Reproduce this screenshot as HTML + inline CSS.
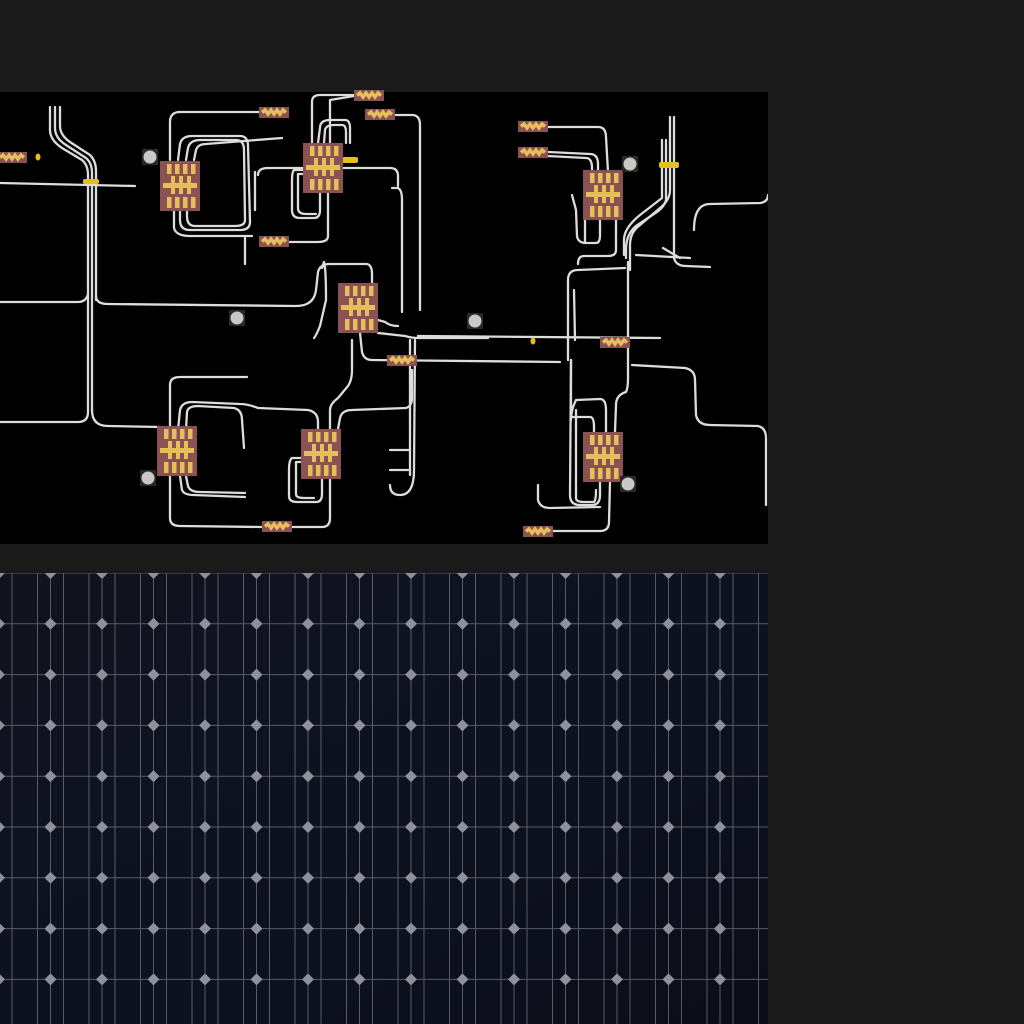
<!DOCTYPE html>
<html><head><meta charset="utf-8"><style>
html,body{margin:0;padding:0;background:#1a1a1a;width:1024px;height:1024px;overflow:hidden}
svg{position:absolute;left:0;top:0}
</style></head><body>
<svg width="1024" height="1024" viewBox="0 0 1024 1024" xmlns="http://www.w3.org/2000/svg">
<defs>
<g id="chip">
<rect x="0" y="0" width="40" height="50" fill="#8a5252"/>
<g fill="#e6bf5c">
<rect x="7" y="3" width="4.5" height="10"/><rect x="15" y="3" width="4.5" height="10"/><rect x="23" y="3" width="4.5" height="10"/><rect x="31" y="3" width="4.5" height="10"/>
<rect x="3" y="22" width="34" height="5"/>
<rect x="11" y="15" width="4" height="18"/><rect x="19" y="15" width="4" height="18"/><rect x="27" y="15" width="4" height="18"/>
<rect x="7" y="36" width="4.5" height="11"/><rect x="15" y="36" width="4.5" height="11"/><rect x="23" y="36" width="4.5" height="11"/><rect x="31" y="36" width="4.5" height="11"/>
</g></g>
<g id="res">
<rect x="0" y="0" width="30" height="11" fill="#8a5252"/>
<path d="M3 5.5 L6 3 L9 7 L12 3 L15 7 L18 3 L21 7 L24 3 L27 5.5" stroke="#e6bf5c" stroke-width="3.5" fill="none"/>
</g>
<g id="btn"><rect x="-8" y="-8" width="16" height="16" fill="#2a2a22"/><circle r="6.5" fill="#c8c8c8"/></g>
<linearGradient id="sg" x1="0" y1="0" x2="1" y2="1"><stop offset="0" stop-color="#11131e"/><stop offset="0.5" stop-color="#0e1220"/><stop offset="1" stop-color="#0b0d18"/></linearGradient>
</defs>
<rect x="0" y="92" width="768" height="452" fill="#000"/>
<rect x="0" y="573" width="768" height="451" fill="url(#sg)"/>
<g id="solar" stroke="#8a8c9a" stroke-width="1" opacity="0.6">
</g>
<g id="dia"></g>
<g fill="none" stroke="#dcdcdc" stroke-width="2.3" stroke-linecap="round" stroke-linejoin="round">
<path d="M50 107 L50 130 Q50 140 62 148 L82 160 Q88 165 88 175 L88 412 Q88 422 78 422 L0 422"/>
<path d="M55 107 L55 128 Q55 138 66 145 L86 158 Q92 163 92 173 L92 410 Q92 426 108 426 L160 427"/>
<path d="M60 107 L60 126 Q60 135 70 142 L90 155 Q96 161 96 171 L96 300"/>
<path d="M0 183 L135 186"/>
<path d="M0 302 L78 302 Q86 302 88 294"/>
<path d="M96 296 Q96 304 108 304 L296 306 Q314 306 316 290 L318 272 Q320 264 330 264 L366 264 Q372 264 372 274 L372 290"/>
<path d="M322 268 L324 262 Q326 268 326 300 L320 326 Q316 336 314 338"/>
<path d="M170 160 L170 122 Q170 112 180 112 L260 112"/>
<path d="M178 160 L180 144 Q182 136 192 136 L240 136 Q248 136 248 146 L250 222 Q250 230 240 230 L190 230 Q180 230 180 220 L180 211"/>
<path d="M186 160 L188 148 Q190 140 200 140 L236 140 Q244 140 244 150 L245 220 Q245 226 235 226 L195 226 Q187 226 187 216 L187 211"/>
<path d="M194 160 L196 150 Q198 144 206 144 L282 138"/>
<path d="M174 211 L174 228 Q176 236 190 236 L252 236"/>
<path d="M245 238 L245 264"/>
<path d="M312 143 L312 102 Q312 95 320 95 L354 95"/>
<path d="M318 143 L320 128 Q320 120 330 120 L345 120 Q350 120 350 128 L350 143"/>
<path d="M324 143 L325 130 Q326 125 334 125 L342 125 Q346 125 346 132 L346 143"/>
<path d="M330 143 L330 100 L354 96"/>
<path d="M306 170 L294 170 Q292 172 292 180 L292 210 Q292 218 300 218 L314 218 Q320 218 320 210 L320 193"/>
<path d="M308 174 L298 174 L298 208 Q298 214 306 214 L316 214"/>
<path d="M328 193 L328 236 Q328 242 318 242 L289 242"/>
<path d="M395 115 L412 115 Q420 115 420 125 L420 310"/>
<path d="M258 175 Q258 168 268 168 L390 168 Q398 168 398 176 L398 186"/>
<path d="M255 172 L255 210"/>
<path d="M392 188 L398 188 Q402 190 402 200 L402 312"/>
<path d="M378 320 L385 322 Q390 326 398 326"/>
<path d="M378 333 L405 336 Q412 338 418 338 L488 338"/>
<path d="M418 336 L660 338"/>
<path d="M360 333 L362 352 Q364 360 372 360 L560 362"/>
<path d="M415 340 L414 470 Q414 495 400 495 Q390 495 390 485"/>
<path d="M410 340 L410 475"/>
<path d="M390 450 L410 450"/>
<path d="M390 470 L408 470"/>
<path d="M330 429 L330 410 Q330 404 338 398 L348 386 Q352 380 352 370 L352 340"/>
<path d="M338 429 L340 418 Q342 410 352 410 L406 408 Q412 406 412 398 L412 370"/>
<path d="M305 458 L292 458 Q289 460 289 470 L289 496 Q289 502 297 502 L316 502 Q322 502 322 494 L322 478"/>
<path d="M310 462 L296 462 L296 494 Q296 498 304 498 L314 498"/>
<path d="M170 430 L170 385 Q170 377 180 377 L247 377"/>
<path d="M178 430 L180 410 Q182 402 192 402 L240 404 Q248 404 258 408 L308 410 Q318 412 318 422 L318 429"/>
<path d="M186 430 L187 412 Q188 406 198 406 L234 408 Q242 410 242 420 L244 448"/>
<path d="M180 476 L182 490 Q184 495 194 495 L245 497"/>
<path d="M186 476 L188 486 Q190 492 200 492 L245 493"/>
<path d="M170 476 L170 518 Q170 526 180 526 L262 527"/>
<path d="M292 527 L322 527 Q330 527 330 518 L330 478"/>
<path d="M548 127 L598 127 Q606 127 606 137 L608 172"/>
<path d="M548 152 L590 154 Q598 154 598 164 L598 172"/>
<path d="M548 156 L586 158 Q592 158 592 168 L592 172"/>
<path d="M572 195 L576 210 L577 236 Q578 243 586 243 L596 243 Q600 243 600 235 L600 220"/>
<path d="M568 340 L568 280 Q568 270 578 270 L625 268"/>
<path d="M568 340 L568 360"/>
<path d="M575 340 L574 290"/>
<path d="M616 220 L616 250 Q616 256 608 256 L584 256 Q578 256 578 264"/>
<path d="M571 360 L571 420 Q571 410 576 400 L600 399 Q606 399 606 410 L606 434"/>
<path d="M571 360 L570 495 Q570 505 580 505 L592 505 Q600 505 600 495 L600 482"/>
<path d="M576 410 L576 498 Q576 502 584 502 L594 502 Q596 500 596 490"/>
<path d="M571 417 L590 417 Q594 417 594 427 L594 432"/>
<path d="M538 485 L538 500 Q540 508 550 508 L600 507"/>
<path d="M553 531 L600 531 Q609 531 609 522 L610 482"/>
<path d="M615 432 L616 405 Q616 395 626 392 Q628 388 628 378 L628 262"/>
<path d="M632 365 L685 368 Q695 370 695 380 L696 415 Q698 425 710 425 L758 426 Q766 428 766 438 L766 505"/>
<path d="M674 117 L674 258 Q676 266 686 266 L710 267"/>
<path d="M670 117 L670 190 Q670 200 660 208 L640 225 Q630 232 630 245 L630 270"/>
<path d="M666 140 L666 200 Q664 208 654 214 L636 226 Q626 234 626 250 L626 258"/>
<path d="M662 140 L662 198 L640 215 Q624 228 624 240 L624 255"/>
<path d="M636 255 L690 258"/>
<path d="M663 248 L680 258"/>
<path d="M694 230 Q694 204 710 204 L760 203 Q768 202 768 195"/>
<path d="M585 215 L585 242"/>
</g>
<g fill="#e6bf1f">
<rect x="83" y="179" width="16" height="5" rx="2"/>
<rect x="342" y="157" width="16" height="6" rx="2"/>
<rect x="659" y="162" width="20" height="6" rx="2"/>
<ellipse cx="38" cy="157" rx="2.5" ry="3.5"/>
<ellipse cx="533" cy="341" rx="2.5" ry="3.5"/>
</g>
<use href="#chip" x="160" y="161"/>
<use href="#chip" x="303" y="143"/>
<use href="#chip" x="338" y="283"/>
<use href="#chip" x="157" y="426"/>
<use href="#chip" x="301" y="429"/>
<use href="#chip" x="583" y="170"/>
<use href="#chip" x="583" y="432"/>
<use href="#res" x="-3" y="152"/>
<use href="#res" x="259" y="107"/>
<use href="#res" x="354" y="90"/>
<use href="#res" x="365" y="109"/>
<use href="#res" x="259" y="236"/>
<use href="#res" x="518" y="121"/>
<use href="#res" x="518" y="147"/>
<use href="#res" x="387" y="355"/>
<use href="#res" x="600" y="337"/>
<use href="#res" x="262" y="521"/>
<use href="#res" x="523" y="526"/>
<use href="#btn" x="150" y="157"/>
<use href="#btn" x="237" y="318"/>
<use href="#btn" x="475" y="321"/>
<use href="#btn" x="630" y="164"/>
<use href="#btn" x="148" y="478"/>
<use href="#btn" x="628" y="484"/>
</svg>
<script>
(function(){
var g=document.getElementById('solar'),h=document.getElementById('dia'),s='',t='';
var dx=51.5,dy=50.8,x0=-1,y0=573;
for(var i=0;i<16;i++){var d=x0+i*dx;[d,d+13,d+38.5].forEach(function(x){if(x>=0&&x<=768)s+='<line x1="'+x+'" y1="573" x2="'+x+'" y2="1024"/>';});}
for(var j=0;j<10;j++){var y=y0+j*dy;s+='<line x1="0" y1="'+y+'" x2="768" y2="'+y+'"/>';}
for(var i=0;i<16;i++)for(var j=0;j<10;j++){var cx=x0+i*dx,cy=y0+j*dy;if(cx>770)continue;t+='<path d="M'+(cx-6)+' '+cy+' L'+cx+' '+(cy-6)+' L'+(cx+6)+' '+cy+' L'+cx+' '+(cy+6)+'Z" fill="#8e909c"/>';}
g.innerHTML=s;h.innerHTML=t;
})();
</script>
<div style="position:absolute;left:0;top:544px;width:1024px;height:29px;background:#1a1a1a"></div>
<div style="position:absolute;left:768px;top:0;width:256px;height:1024px;background:#1a1a1a"></div>
</body></html>
